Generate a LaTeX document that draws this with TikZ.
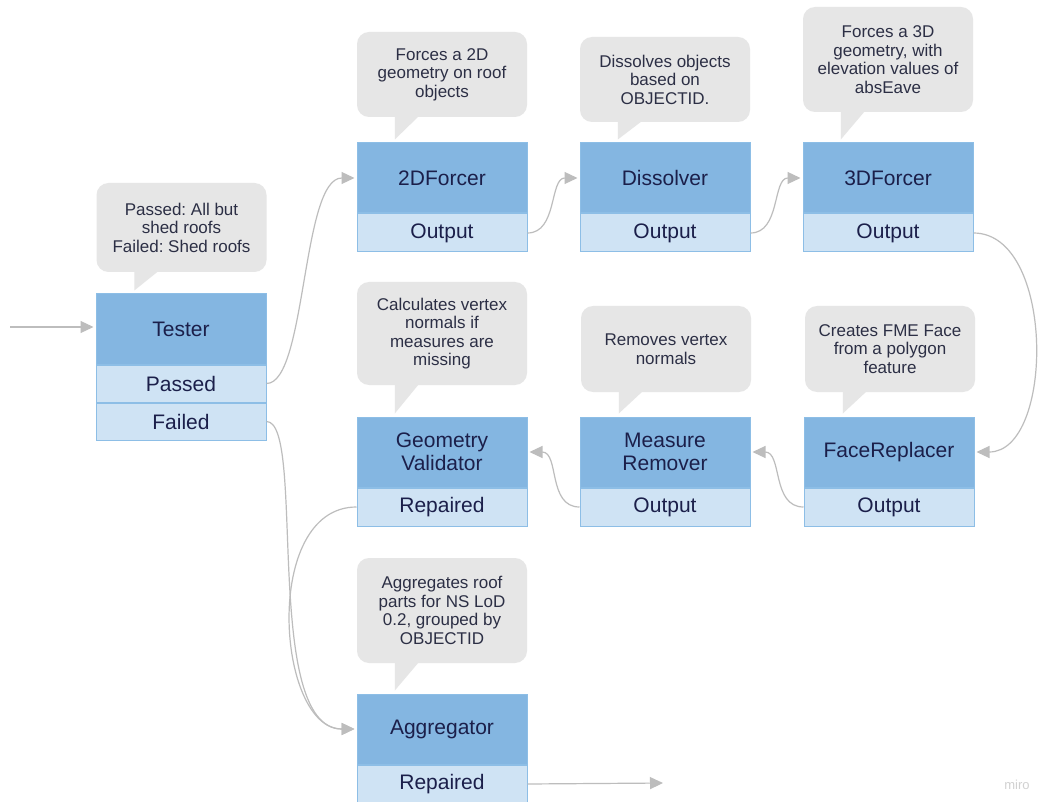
\documentclass[tikz,border=0pt]{standalone}
\usepackage{fontspec}
\setmainfont{Liberation Sans}
\frenchspacing
\usetikzlibrary{arrows.meta,calc}
\definecolor{headcol}{HTML}{84B6E1}
\definecolor{rowcol}{HTML}{CFE3F4}
\definecolor{bordcol}{HTML}{8DBEE6}
\definecolor{navy}{HTML}{1B1F4A}
\definecolor{calltxt}{HTML}{2C2F45}
\definecolor{callfill}{HTML}{E6E6E6}
\definecolor{linecol}{HTML}{BDBDBD}
\newcommand{\mytail}[2]{\fill[callfill] let \p1=(#1.south west), \p2=(#2.north) in (\x1+38pt,\y1+1pt) -- (\x1+62pt,\y1+1pt) -- (\x1+38pt,\y2+3pt) -- cycle;}
\tikzset{
  head/.style={draw=bordcol, fill=headcol, line width=1pt, minimum width=170pt, minimum height=70pt, inner sep=0pt, text=navy, align=center, font=\fontsize{21}{22.5}\selectfont},
  rowbox/.style={draw=bordcol, fill=rowcol, line width=1pt, minimum width=170pt, minimum height=38pt, inner sep=0pt, text=navy, anchor=north, font=\fontsize{21}{22.5}\selectfont},
  callout/.style={fill=callfill, rounded corners=12pt, minimum width=170pt, inner sep=0pt, text=calltxt, align=center, font=\fontsize{17}{18.5}\selectfont},
  conn/.style={draw=linecol, line width=1.2pt, -{Triangle[length=13pt,width=12pt]}, shorten >=2pt}
}
\begin{document}
\begin{tikzpicture}[x=1pt,y=-1pt]
\fill[white] (0,0) rectangle (1039,802);
\useasboundingbox (0,0) rectangle (1039,802);

% Tester
\node[head] (t) at (181,329) {Tester};
\node[rowbox, minimum height=37pt] (tp) at (t.south) {Passed};
\node[rowbox, minimum height=37pt] (tf) at (tp.south) {Failed};
\node[callout, minimum height=89pt] (ct) at (181.5,227.5) {Passed: All but\\shed roofs\\Failed: Shed roofs};
\mytail{ct}{t}

% 2DForcer
\node[head] (f2) at (442,178) {2DForcer};
\node[rowbox] (f2o) at (f2.south) {Output};
\node[callout, minimum height=85pt] (cf2) at (442,74.5) {Forces a 2D\\geometry on roof\\objects};
\mytail{cf2}{f2}

% Dissolver
\node[head] (ds) at (665,178) {Dissolver};
\node[rowbox] (dso) at (ds.south) {Output};
\node[callout, minimum height=85pt] (cds) at (665,79.5) {Dissolves objects\\based on\\OBJECTID.};
\mytail{cds}{ds}

% 3DForcer
\node[head] (f3) at (888,178) {3DForcer};
\node[rowbox] (f3o) at (f3.south) {Output};
\node[callout, minimum height=105pt] (cf3) at (888,59.5) {Forces a 3D\\geometry, with\\elevation values of\\absEave};
\mytail{cf3}{f3}

% Geometry Validator
\node[head] (gv) at (442,452) {Geometry\\Validator};
\node[rowbox] (gvr) at (gv.south) {Repaired};
\node[callout, minimum height=103pt] (cgv) at (442,333.5) {Calculates vertex\\normals if\\measures are\\missing};
\mytail{cgv}{gv}

% Measure Remover
\node[head] (mr) at (665,452) {Measure\\Remover};
\node[rowbox] (mro) at (mr.south) {Output};
\node[callout, minimum height=86pt] (cmr) at (666,349) {Removes vertex\\normals};
\mytail{cmr}{mr}

% FaceReplacer
\node[head] (fr) at (889,452) {FaceReplacer};
\node[rowbox] (fro) at (fr.south) {Output};
\node[callout, minimum height=86pt] (cfr) at (890,349) {Creates FME Face\\from a polygon\\feature};
\mytail{cfr}{fr}

% Aggregator
\node[head] (ag) at (442,729) {Aggregator};
\node[rowbox] (agr) at (ag.south) {Repaired};
\node[callout, minimum height=105pt] (cag) at (442,610.5) {Aggregates roof\\parts for NS LoD\\0.2, grouped by\\OBJECTID};
\mytail{cag}{ag}

% connectors
\coordinate (in) at (10,327);
\coordinate (out) at (665,783);
\draw[conn] (in) -- (in -| t.west);
\draw[conn] (tp.east) .. controls +(40,0) and +(-55,0) .. (f2.west);
\draw[conn] (f2o.east) .. controls +(30,0) and +(-30,0) .. (ds.west);
\draw[conn] (dso.east) .. controls +(30,0) and +(-30,0) .. (f3.west);
\draw[conn] (f3o.east) .. controls +(82,0) and +(80,0) .. (fr.east);
\draw[conn] (fro.west) .. controls +(-32,0) and +(32,0) .. (mr.east);
\draw[conn] (mro.west) .. controls +(-32,0) and +(32,0) .. (gv.east);
\draw[conn] (tf.east) .. controls +(40,0) and +(-95,0) .. (ag.west);
\draw[conn] (gvr.west) .. controls +(-95,0) and +(-80,0) .. (ag.west);
\draw[conn] (agr.east) -- (out);

\node[text=linecol!70, font=\fontsize{13}{13}\selectfont] (miro) at (1017,785) {miro};
\end{tikzpicture}
\end{document}
